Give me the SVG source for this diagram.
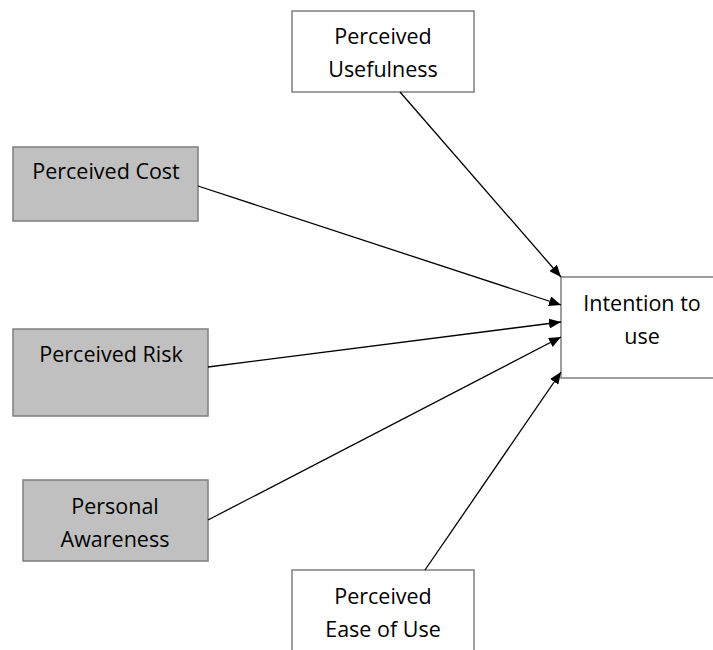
<svg xmlns="http://www.w3.org/2000/svg" width="713" height="650" viewBox="0 0 713 650">
<style>
.box{stroke:#7f7f7f;stroke-width:1.5}
.w{fill:#ffffff}
.g{fill:#c0c0c0}
text{font-family:"Open Sans","Liberation Sans",sans-serif;font-size:21.5px;fill:#000;text-anchor:middle}
.c line{stroke:#000;stroke-width:1.3;marker-end:url(#ah)}
</style>
<defs>
<marker id="ah" markerWidth="12" markerHeight="10" refX="12" refY="5" orient="auto" markerUnits="userSpaceOnUse">
<path d="M0,0 L12,5 L0,10 Z" fill="#000"/>
</marker>
</defs>
<rect width="713" height="650" fill="#fff"/>
<g id="usefulness"><rect class="box w" x="292" y="11" width="182" height="81"/><text x="383" y="44">Perceived</text><text x="383" y="77">Usefulness</text></g>
<g id="cost"><rect class="box g" x="13" y="147" width="185" height="74"/><text x="106" y="179">Perceived Cost</text></g>
<g id="risk"><rect class="box g" x="13" y="329" width="195" height="87"/><text x="111" y="362">Perceived Risk</text></g>
<g id="awareness"><rect class="box g" x="23" y="480" width="185" height="81"/><text x="115" y="514">Personal</text><text x="115" y="547">Awareness</text></g>
<g id="ease"><rect class="box w" x="292" y="570" width="182" height="90"/><text x="383" y="604">Perceived</text><text x="383" y="637">Ease of Use</text></g>
<g id="intention"><rect class="box w" x="561" y="277" width="160" height="101"/><text x="642" y="311">Intention to</text><text x="642" y="344">use</text></g>
<g class="c" id="connectors">
<line x1="400" y1="92" x2="561" y2="277"/>
<line x1="198" y1="186" x2="561" y2="305"/>
<line x1="208" y1="367" x2="561" y2="322"/>
<line x1="208" y1="520" x2="561" y2="337"/>
<line x1="425" y1="570" x2="561" y2="372"/>
</g>
</svg>
